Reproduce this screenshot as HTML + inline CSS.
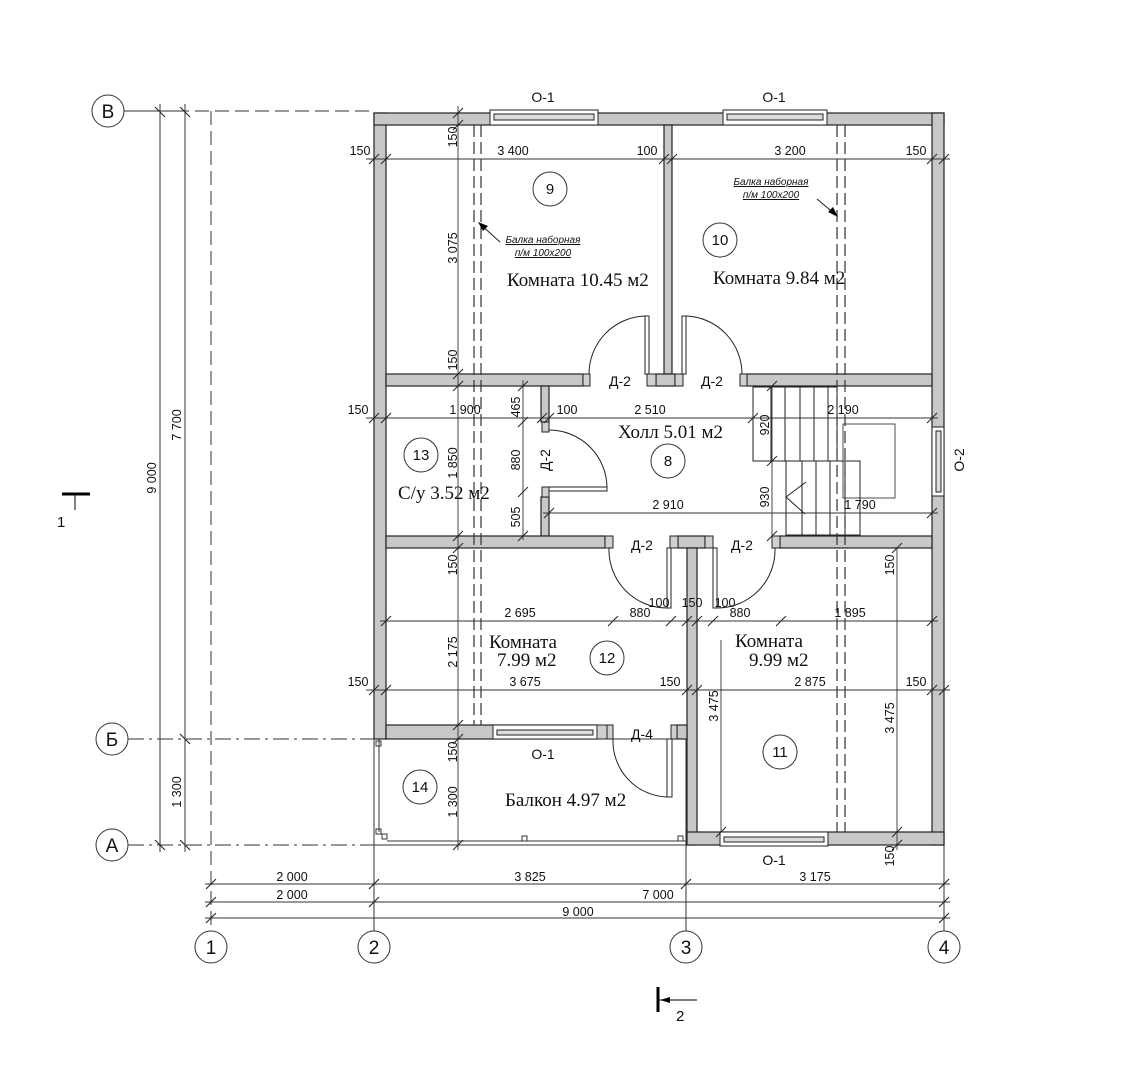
<!DOCTYPE html>
<html><head><meta charset="utf-8"><style>
html,body{margin:0;padding:0;background:#fff;}
svg{display:block;}
.d{font-family:"Liberation Sans",sans-serif;font-size:12.5px;fill:#111;}
.r{font-family:"Liberation Serif",serif;font-size:19px;fill:#111;}
.c{font-family:"Liberation Sans",sans-serif;font-size:15px;fill:#111;}
.ax{font-family:"Liberation Sans",sans-serif;font-size:19px;fill:#111;}
.o{font-family:"Liberation Sans",sans-serif;font-size:14px;fill:#111;}
</style></head><body>
<svg width="1139" height="1080" viewBox="0 0 1139 1080" xmlns="http://www.w3.org/2000/svg">
<rect width="1139" height="1080" fill="#fff"/>

<!-- grid/axis lines -->
<g stroke="#333" stroke-width="1" fill="none">
 <line x1="124" y1="111" x2="175" y2="111"/>
 <line x1="175" y1="111" x2="374" y2="111" stroke-dasharray="14,6"/>
 <line x1="128" y1="739" x2="374" y2="739" stroke-dasharray="16,5,3,5"/>
 <line x1="128" y1="845" x2="374" y2="845" stroke-dasharray="16,5,3,5"/>
 <line x1="160" y1="104" x2="160" y2="852"/>
 <line x1="185" y1="104" x2="185" y2="852"/>
 <line x1="211" y1="111" x2="211" y2="931" stroke-dasharray="14,6"/>
 <line x1="374" y1="845" x2="374" y2="931"/>
 <line x1="686" y1="845" x2="686" y2="931"/>
 <line x1="944" y1="845" x2="944" y2="931"/>
 <!-- bottom dims -->
 <line x1="205" y1="884" x2="950" y2="884"/>
 <line x1="205" y1="902" x2="950" y2="902"/>
 <line x1="205" y1="918" x2="950" y2="918"/>
</g>
<g stroke="#222" stroke-width="1.1">
 <line x1="155" y1="107" x2="165" y2="117"/><line x1="155" y1="840" x2="165" y2="850"/>
 <line x1="180" y1="107" x2="190" y2="117"/><line x1="180" y1="734" x2="190" y2="744"/><line x1="180" y1="840" x2="190" y2="850"/>
 <line x1="206" y1="889" x2="216" y2="879"/><line x1="369" y1="889" x2="379" y2="879"/><line x1="681" y1="889" x2="691" y2="879"/><line x1="939" y1="889" x2="949" y2="879"/>
 <line x1="206" y1="907" x2="216" y2="897"/><line x1="369" y1="907" x2="379" y2="897"/><line x1="939" y1="907" x2="949" y2="897"/>
 <line x1="206" y1="923" x2="216" y2="913"/><line x1="939" y1="923" x2="949" y2="913"/>
</g>
<g fill="#fff" stroke="#333" stroke-width="1">
 <circle cx="108" cy="111" r="16"/><circle cx="112" cy="739" r="16"/><circle cx="112" cy="845" r="16"/>
 <circle cx="211" cy="947" r="16"/><circle cx="374" cy="947" r="16"/><circle cx="686" cy="947" r="16"/><circle cx="944" cy="947" r="16"/>
</g>
<g class="ax" text-anchor="middle">
 <text x="108" y="118">В</text><text x="112" y="746">Б</text><text x="112" y="852">А</text>
 <text x="211" y="954">1</text><text x="374" y="954">2</text><text x="686" y="954">3</text><text x="944" y="954">4</text>
</g>
<g class="d" text-anchor="middle">
 <text x="292" y="881">2 000</text><text x="530" y="881">3 825</text><text x="815" y="881">3 175</text>
 <text x="292" y="899">2 000</text><text x="658" y="899">7 000</text>
 <text x="578" y="916">9 000</text>
 <text transform="translate(156,478) rotate(-90)">9 000</text>
 <text transform="translate(181,425) rotate(-90)">7 700</text>
 <text transform="translate(181,792) rotate(-90)">1 300</text>
</g>

<!-- section marks -->
<g stroke="#000" fill="none">
 <line x1="62" y1="494" x2="90" y2="494" stroke-width="3"/>
 <line x1="75" y1="494" x2="75" y2="510" stroke-width="1"/>
 <line x1="658" y1="987" x2="658" y2="1012" stroke-width="3"/>
 <line x1="658" y1="1000" x2="697" y2="1000" stroke-width="1"/>
</g>
<polygon points="660,1000 670,997 670,1003" fill="#000"/>
<text class="c" x="57" y="527">1</text>
<text class="c" x="676" y="1021">2</text>

<!-- balcony outline -->
<g stroke="#333" stroke-width="1" fill="none">
 <rect x="374" y="739" width="312" height="106"/>
 <line x1="379" y1="739" x2="379" y2="832"/>
 <line x1="387" y1="841" x2="686" y2="841"/>
 <rect x="376" y="741" width="5" height="5"/><rect x="376" y="829" width="5" height="5"/><rect x="382" y="834" width="5" height="5"/>
 <rect x="522" y="836" width="5" height="5"/><rect x="678" y="836" width="5" height="5"/>
</g>

<!-- walls -->
<g fill="#c8c8c8" stroke="#222" stroke-width="1.2">
 <rect x="374" y="113" width="12" height="626"/>
 <rect x="374" y="113" width="570" height="12"/>
 <rect x="932" y="113" width="12" height="732"/>
 <rect x="664" y="125" width="8" height="249"/>
 <rect x="386" y="374" width="197" height="12"/>
 <rect x="656" y="374" width="19" height="12"/>
 <rect x="747" y="374" width="185" height="12"/>
 <rect x="541" y="386" width="8" height="36"/>
 <rect x="541" y="497" width="8" height="39"/>
 <rect x="386" y="536" width="219" height="12"/>
 <rect x="678" y="536" width="27" height="12"/>
 <rect x="780" y="536" width="152" height="12"/>
 <rect x="687" y="548" width="10" height="297"/>
 <rect x="386" y="725" width="211" height="14"/>
 <rect x="677" y="725" width="10" height="14"/>
 <rect x="687" y="832" width="257" height="13"/>
</g>
<!-- jambs -->
<g fill="#d0d0d0" stroke="#222" stroke-width="1">
 <rect x="583" y="374" width="7" height="12"/><rect x="647" y="374" width="9" height="12"/>
 <rect x="675" y="374" width="8" height="12"/><rect x="740" y="374" width="7" height="12"/>
 <rect x="542" y="422" width="7" height="10"/><rect x="542" y="487" width="7" height="10"/>
 <rect x="605" y="536" width="8" height="12"/><rect x="670" y="536" width="8" height="12"/>
 <rect x="705" y="536" width="8" height="12"/><rect x="772" y="536" width="8" height="12"/>
 <rect x="597" y="725" width="10" height="14"/><rect x="607" y="725" width="6" height="14"/><rect x="671" y="725" width="6" height="14"/>
</g>

<!-- windows -->
<g stroke="#222" stroke-width="1" fill="#fff">
 <rect x="490" y="110" width="108" height="15"/><rect x="494" y="114" width="100" height="6" fill="#ddd"/>
 <rect x="723" y="110" width="104" height="15"/><rect x="727" y="114" width="96" height="6" fill="#ddd"/>
 <rect x="493" y="725" width="104" height="14"/><rect x="497" y="730" width="96" height="5" fill="#ddd"/>
 <rect x="720" y="832" width="108" height="14"/><rect x="724" y="837" width="100" height="5" fill="#ddd"/>
 <rect x="932" y="427" width="12" height="69"/><rect x="936" y="431" width="5" height="61" fill="#ddd"/>
</g>
<g class="o" text-anchor="middle">
 <text x="543" y="102">О-1</text><text x="774" y="102">О-1</text>
 <text x="543" y="759">О-1</text><text x="774" y="865">О-1</text>
 <text transform="translate(964,460) rotate(-90)">О-2</text>
</g>

<!-- doors -->
<g stroke="#222" stroke-width="1" fill="#fff">
 <rect x="645" y="316" width="4" height="58"/>
 <rect x="682" y="316" width="4" height="58"/>
 <rect x="549" y="487" width="58" height="4"/>
 <rect x="667" y="548" width="4" height="60"/>
 <rect x="713" y="548" width="4" height="60"/>
 <rect x="667" y="739" width="5" height="58"/>
</g>
<g stroke="#222" stroke-width="1" fill="none">
 <path d="M645,316 A58,58 0 0 0 589,374"/>
 <path d="M686,316 A58,58 0 0 1 742,374"/>
 <path d="M549,430 A58,58 0 0 1 607,487"/>
 <path d="M667,608 A58,58 0 0 1 609,548"/>
 <path d="M717,608 A58,58 0 0 0 775,548"/>
 <path d="M613,739 A56,56 0 0 0 667,797"/>
</g>
<g class="o" text-anchor="middle">
 <text x="620" y="386">Д-2</text><text x="712" y="386">Д-2</text>
 <text x="642" y="550">Д-2</text><text x="742" y="550">Д-2</text>
 <text x="642" y="739">Д-4</text>
 <text transform="translate(550,460) rotate(-90)">Д-2</text>
</g>

<!-- stairs -->
<g stroke="#222" stroke-width="1" fill="none">
 <rect x="753" y="387" width="84" height="74"/>
 <line x1="771" y1="387" x2="771" y2="461"/><line x1="785" y1="387" x2="785" y2="461"/>
 <line x1="800" y1="387" x2="800" y2="461"/><line x1="814" y1="387" x2="814" y2="461"/>
 <line x1="828" y1="387" x2="828" y2="461"/>
 <rect x="786" y="461" width="74" height="74"/>
 <line x1="802" y1="461" x2="802" y2="535"/><line x1="816" y1="461" x2="816" y2="535"/>
 <line x1="830" y1="461" x2="830" y2="535"/><line x1="845" y1="461" x2="845" y2="535"/>
 <rect x="843" y="424" width="52" height="74" stroke-width="0.8"/>
 <line x1="786" y1="497" x2="806" y2="482"/><line x1="786" y1="497" x2="805" y2="514"/>
</g>

<!-- beams dashed -->
<g stroke="#333" stroke-width="1.2" stroke-dasharray="12,5" fill="none">
 <line x1="474" y1="125" x2="474" y2="725"/><line x1="481" y1="125" x2="481" y2="725"/>
 <line x1="837" y1="125" x2="837" y2="832"/><line x1="845" y1="125" x2="845" y2="832"/>
</g>

<!-- interior dimension lines -->
<g stroke="#333" stroke-width="0.9" fill="none">
 <line x1="366" y1="159" x2="950" y2="159"/>
 <line x1="366" y1="418" x2="938" y2="418"/>
 <line x1="543" y1="513" x2="938" y2="513"/>
 <line x1="380" y1="621" x2="938" y2="621"/>
 <line x1="366" y1="690" x2="950" y2="690"/>
 <line x1="458" y1="106" x2="458" y2="850"/>
 <line x1="523" y1="380" x2="523" y2="540"/>
 <line x1="772" y1="386" x2="772" y2="536"/>
 <line x1="721" y1="640" x2="721" y2="832"/>
 <line x1="897" y1="548" x2="897" y2="850"/>
</g>
<g stroke="#222" stroke-width="1">
 <!-- y159 ticks -->
 <line x1="369" y1="164" x2="379" y2="154"/><line x1="381" y1="164" x2="391" y2="154"/><line x1="659" y1="164" x2="669" y2="154"/><line x1="667" y1="164" x2="677" y2="154"/><line x1="927" y1="164" x2="937" y2="154"/><line x1="939" y1="164" x2="949" y2="154"/>
 <!-- y418 -->
 <line x1="369" y1="423" x2="379" y2="413"/><line x1="381" y1="423" x2="391" y2="413"/><line x1="537" y1="423" x2="547" y2="413"/><line x1="544" y1="423" x2="554" y2="413"/><line x1="748" y1="423" x2="758" y2="413"/><line x1="927" y1="423" x2="937" y2="413"/>
 <!-- y513 -->
 <line x1="544" y1="518" x2="554" y2="508"/><line x1="927" y1="518" x2="937" y2="508"/>
 <!-- y621 -->
 <line x1="381" y1="626" x2="391" y2="616"/><line x1="608" y1="626" x2="618" y2="616"/><line x1="666" y1="626" x2="676" y2="616"/><line x1="682" y1="626" x2="692" y2="616"/><line x1="692" y1="626" x2="702" y2="616"/><line x1="708" y1="626" x2="718" y2="616"/><line x1="776" y1="626" x2="786" y2="616"/><line x1="927" y1="626" x2="937" y2="616"/>
 <!-- y690 -->
 <line x1="369" y1="695" x2="379" y2="685"/><line x1="381" y1="695" x2="391" y2="685"/><line x1="682" y1="695" x2="692" y2="685"/><line x1="692" y1="695" x2="702" y2="685"/><line x1="927" y1="695" x2="937" y2="685"/><line x1="939" y1="695" x2="949" y2="685"/>
 <!-- x458 -->
 <line x1="453" y1="118" x2="463" y2="108"/><line x1="453" y1="130" x2="463" y2="120"/><line x1="453" y1="379" x2="463" y2="369"/><line x1="453" y1="391" x2="463" y2="381"/><line x1="453" y1="541" x2="463" y2="531"/><line x1="453" y1="553" x2="463" y2="543"/><line x1="453" y1="730" x2="463" y2="720"/><line x1="453" y1="744" x2="463" y2="734"/><line x1="453" y1="850" x2="463" y2="840"/>
 <!-- x523 -->
 <line x1="518" y1="391" x2="528" y2="381"/><line x1="518" y1="427" x2="528" y2="417"/><line x1="518" y1="497" x2="528" y2="487"/><line x1="518" y1="541" x2="528" y2="531"/>
 <!-- x772 -->
 <line x1="767" y1="391" x2="777" y2="381"/><line x1="767" y1="466" x2="777" y2="456"/><line x1="767" y1="541" x2="777" y2="531"/>
 <!-- x897 -->
 <line x1="892" y1="553" x2="902" y2="543"/><line x1="892" y1="837" x2="902" y2="827"/><line x1="892" y1="850" x2="902" y2="840"/>
 <line x1="716" y1="837" x2="726" y2="827"/>
</g>
<g class="d" text-anchor="middle">
 <text x="360" y="155">150</text><text x="513" y="155">3 400</text><text x="647" y="155">100</text><text x="790" y="155">3 200</text><text x="916" y="155">150</text>
 <text x="358" y="414">150</text><text x="465" y="414">1 900</text><text x="567" y="414">100</text><text x="650" y="414">2 510</text><text x="843" y="414">2 190</text>
 <text x="668" y="509">2 910</text><text x="860" y="509">1 790</text>
 <text x="520" y="617">2 695</text><text x="640" y="617">880</text><text x="740" y="617">880</text><text x="850" y="617">1 895</text>
 <text x="659" y="607">100</text><text x="692" y="607">150</text><text x="725" y="607">100</text>
 <text x="358" y="686">150</text><text x="525" y="686">3 675</text><text x="670" y="686">150</text><text x="810" y="686">2 875</text><text x="916" y="686">150</text>
 <text transform="translate(457,137) rotate(-90)">150</text>
 <text transform="translate(457,248) rotate(-90)">3 075</text>
 <text transform="translate(457,360) rotate(-90)">150</text>
 <text transform="translate(457,463) rotate(-90)">1 850</text>
 <text transform="translate(457,565) rotate(-90)">150</text>
 <text transform="translate(457,652) rotate(-90)">2 175</text>
 <text transform="translate(457,752) rotate(-90)">150</text>
 <text transform="translate(457,802) rotate(-90)">1 300</text>
 <text transform="translate(520,407) rotate(-90)">465</text>
 <text transform="translate(520,460) rotate(-90)">880</text>
 <text transform="translate(520,517) rotate(-90)">505</text>
 <text transform="translate(769,425) rotate(-90)">920</text>
 <text transform="translate(769,497) rotate(-90)">930</text>
 <text transform="translate(718,706) rotate(-90)">3 475</text>
 <text transform="translate(894,718) rotate(-90)">3 475</text>
 <text transform="translate(894,565) rotate(-90)">150</text>
 <text transform="translate(894,856) rotate(-90)">150</text>
</g>

<!-- beam notes -->
<g font-family="Liberation Sans,sans-serif" font-size="10" font-style="italic" fill="#111" text-anchor="middle">
 <text x="543" y="243" text-decoration="underline">Балка наборная</text>
 <text x="543" y="256" text-decoration="underline">п/м 100x200</text>
 <text x="771" y="185" text-decoration="underline">Балка наборная</text>
 <text x="771" y="198" text-decoration="underline">п/м 100x200</text>
</g>
<g stroke="#222" stroke-width="1">
 <line x1="500" y1="242" x2="480" y2="224"/>
 <line x1="817" y1="199" x2="836" y2="215"/>
</g>
<polygon points="478,222 488,226 483,231" fill="#000"/>
<polygon points="838,217 828,212 833,207" fill="#000"/>

<!-- room markers -->
<g fill="none" stroke="#333" stroke-width="1">
 <circle cx="550" cy="189" r="17"/><circle cx="720" cy="240" r="17"/>
 <circle cx="668" cy="461" r="17"/><circle cx="421" cy="455" r="17"/>
 <circle cx="607" cy="658" r="17"/><circle cx="780" cy="752" r="17"/><circle cx="420" cy="787" r="17"/>
</g>
<g class="c" text-anchor="middle">
 <text x="550" y="194">9</text><text x="720" y="245">10</text><text x="668" y="466">8</text>
 <text x="421" y="460">13</text><text x="607" y="663">12</text><text x="780" y="757">11</text><text x="420" y="792">14</text>
</g>
<g class="r">
 <text x="507" y="286">Комната 10.45 м2</text>
 <text x="713" y="284">Комната  9.84 м2</text>
 <text x="618" y="438">Холл 5.01 м2</text>
 <text x="398" y="499">С/у 3.52 м2</text>
 <text x="489" y="648">Комната</text>
 <text x="497" y="666">7.99 м2</text>
 <text x="735" y="647">Комната</text>
 <text x="749" y="666">9.99 м2</text>
 <text x="505" y="806">Балкон  4.97 м2</text>
</g>
</svg>
</body></html>
